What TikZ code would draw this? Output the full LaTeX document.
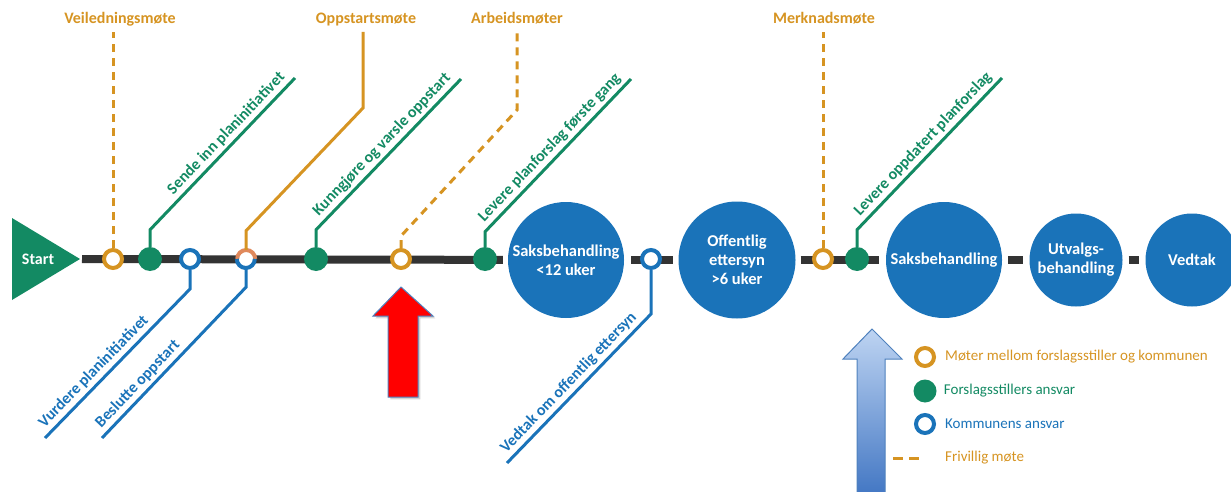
\documentclass[tikz,border=0pt]{standalone}
\usepackage{fontspec}
\setmainfont{Carlito}
\usetikzlibrary{positioning,backgrounds,shadows}

\definecolor{gron}{RGB}{19,138,99}
\definecolor{bla}{RGB}{26,115,185}
\definecolor{oransje}{RGB}{214,148,34}
\definecolor{laks}{RGB}{224,137,92}
\definecolor{spor}{RGB}{51,51,51}
\definecolor{pilkant}{RGB}{79,129,189}
\definecolor{lysbla}{RGB}{190,212,242}
\definecolor{morkbla}{RGB}{68,120,196}

\tikzset{
    track/.style={spor, line width=8pt},
    mote/.style={circle, draw=oransje, line width=4pt, fill=white, minimum size=18pt, inner sep=0pt},
    kommune/.style={circle, draw=bla, line width=4pt, fill=white, minimum size=18pt, inner sep=0pt},
    ansvar/.style={circle, fill=gron, minimum size=24pt, inner sep=0pt},
    sak/.style={circle, fill=bla, text=white, align=center, inner sep=0pt,
        font=\fontsize{16.5}{19}\selectfont\bfseries},
    gline/.style={gron, line width=3pt},
    bline/.style={bla, line width=3pt},
    oline/.style={oransje, line width=3pt},
    odash/.style={oline, dash pattern=on 8pt off 6pt},
    toplbl/.style={text=oransje, font=\fontsize{16}{19}\selectfont\bfseries, inner sep=2pt, anchor=base},
    diag/.style={sloped, font=\fontsize{16}{19}\selectfont\bfseries, inner sep=3pt},
    legtxt/.style={font=\fontsize{15}{18}\selectfont, inner sep=0pt}
}

\begin{document}
\begin{tikzpicture}[x=1pt,y=-1pt]
\useasboundingbox (0,0) rectangle (1231,492);
% Start
\fill[gron] (12,218) -- (80,259) -- (12,300) -- cycle;
\node[text=white, font=\fontsize{16}{19}\selectfont\bfseries] (start) at (38,259) {Start};
\coordinate (starttip) at (82,259);
% Stops
\node[mote] (veil) at (113,259) {};
\node[ansvar] (sende) at (150,259) {};
\node[kommune] (vurdere) at (190,259) {};
\node[circle, fill=white, minimum size=18pt, inner sep=0pt] (oppstart) at (246,259) {};
\draw[laks, line width=4pt] (oppstart.east) arc[start angle=0, end angle=180, radius=9pt];
\draw[bla, line width=4pt] (oppstart.west) arc[start angle=180, end angle=360, radius=9pt];
\node[ansvar] (kunngjore) at (316,259) {};
\node[mote] (arbeid) at (401,259) {};
\node[ansvar] (levere) at (485,259) {};
\node[sak, minimum size=116pt] (sak1) at (566,260) {Saksbehandling\\{<}12 uker};
\node[kommune] (vedtakoff) at (651,259) {};
\node[sak, minimum size=117pt] (offentlig) at (737,260) {Offentlig\\ettersyn\\{>}6 uker};
\node[mote] (merknad) at (823,259) {};
\node[ansvar] (oppdatert) at (857,259) {};
\node[sak, minimum size=116pt] (sak2) at (944,260) {Saksbehandling};
\node[sak, minimum size=93pt] (utvalg) at (1076,260) {Utvalgs-\\behandling};
\node[sak, minimum size=93pt] (vedtak) at (1192,260) {Vedtak};
% Track
\begin{scope}[on background layer]
    \draw[track, shorten >=5pt] (starttip) -- (sak1);
    \draw[track, shorten <=7pt, shorten >=5pt] (sak1) -- (offentlig);
    \draw[track, shorten <=5pt, shorten >=7pt] (offentlig) -- (sak2);
    \draw[track, shorten <=6pt, shorten >=6pt] (sak2) -- (utvalg);
    \draw[track, shorten <=6pt, shorten >=6pt] (utvalg) -- (vedtak);
\end{scope}
% Meetings
\node[toplbl] (veilL) at (120,24) {Veiledningsmøte};
\node[toplbl] (oppstartL) at (366,24) {Oppstartsmøte};
\node[toplbl] (arbeidL) at (517,24) {Arbeidsmøter};
\node[toplbl] (merknadL) at (824,24) {Merknadsmøte};
\coordinate (topend) at (0,32);
\coordinate (oppstartK) at (363,108);
\coordinate (arbeidK) at (517,110);
\draw[odash] (veil.north) -- (veil |- topend);
\draw[oline] (oppstart.north) -- ++(0,-19) -- (oppstartK) -- (oppstartK |- topend);
\draw[odash] (arbeid.north) -- ++(0,-12) -- (arbeidK) -- (arbeidK |- topend);
\draw[odash] (merknad.north) -- (merknad |- topend);
% Upper branches
\coordinate (sendeE) at (295,78);
\coordinate (kunngjoreE) at (461,79);
\coordinate (levereE) at (631,79);
\coordinate (oppdatertE) at (1002,78);
\draw[gline] (sende.north) -- ++(0,-17) -- (sendeE)
    node[diag, pos=.99, anchor=south east, text=gron] {Sende inn planinitiativet};
\draw[gline] (kunngjore.north) -- ++(0,-17) -- (kunngjoreE)
    node[diag, pos=.99, anchor=south east, text=gron] {Kunngjøre og varsle oppstart};
\draw[gline] (levere.north) -- ++(0,-15) -- (levereE)
    node[diag, pos=.99, anchor=south east, text=gron] {Levere planforslag første gang};
\draw[gline] (oppdatert.north) -- ++(0,-17) -- (oppdatertE)
    node[diag, pos=.99, anchor=south east, text=gron] {Levere oppdatert planforslag};
% Lower branches
\coordinate (vurdereE) at (45,438);
\coordinate (beslutteE) at (102,438);
\coordinate (vedtakoffE) at (507,463);
\draw[bline] (vurdere.south) -- ++(0,19) -- (vurdereE)
    node[diag, pos=.99, anchor=south west, text=bla] {Vurdere planinitiativet};
\draw[bline] (oppstart.south) -- ++(0,19) -- (beslutteE)
    node[diag, pos=.99, anchor=south west, text=bla] {Beslutte oppstart};
\draw[bline] (vedtakoff.south) -- ++(0,44) -- (vedtakoffE)
    node[diag, pos=.99, anchor=south west, text=bla] {Vedtak om offentlig ettersyn};
% Arrows
\draw[fill=red, draw=pilkant, line width=1pt, drop shadow={opacity=0.35}]
    (401,287) -- (433,316) -- (418,316) -- (418,397) -- (388,397) -- (388,316) -- (373,316) -- cycle;
\shade[top color=lysbla, bottom color=morkbla, draw=pilkant, line width=1pt]
    (872,329) -- (902,359) -- (885,359) -- (885,493) -- (857,493) -- (857,359) -- (843,359) -- cycle;
% Legend
\node[mote] (legM) at (925,357) {};
\node[ansvar, minimum size=23pt] (legF) at (925,391) {};
\node[kommune] (legK) at (925,424) {};
\coordinate (legD) at (893,458);
\draw[oransje, line width=3pt, dash pattern=on 10pt off 6pt] (legD) -- ++(26,0);
\node[legtxt, text=oransje, right=9pt of legM] {Møter mellom forslagsstiller og kommunen};
\node[legtxt, text=gron, right=7pt of legF] {Forslagsstillers ansvar};
\node[legtxt, text=bla, right=9pt of legK] {Kommunens ansvar};
\node[legtxt, text=oransje, anchor=west] at (945,458) {Frivillig møte};
\end{tikzpicture}
\end{document}
